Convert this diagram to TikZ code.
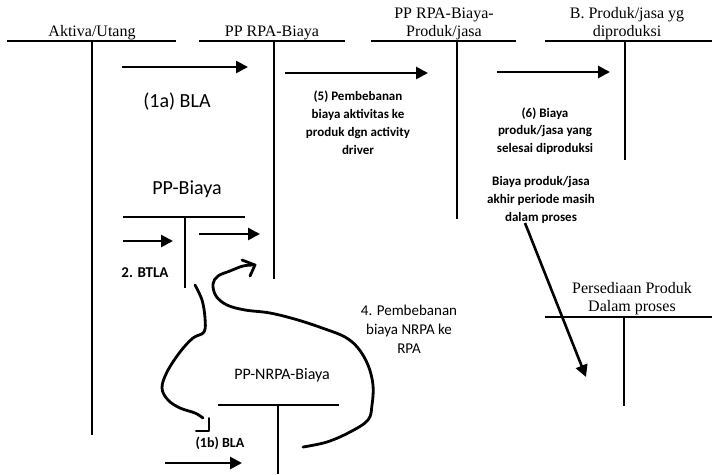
\documentclass[tikz,border=0pt]{standalone}
\usepackage{fontspec}
\setmainfont{Liberation Serif}
\newfontfamily\labelfont{Carlito}
\usetikzlibrary{arrows.meta}

\begin{document}
\begin{tikzpicture}[x=1pt,y=-1pt,
  ruling/.style={line width=1.3pt},
  flow/.style={line width=2.6pt,-{Triangle[length=12pt,width=12pt]}},
  sketch/.style={line width=2.8pt,line cap=round,line join=round},
  title/.style={font=\fontsize{16}{18}\selectfont,align=center,inner sep=0pt,anchor=south},
  note/.style={font=\labelfont\bfseries\fontsize{13}{17.5}\selectfont,align=center,inner sep=0pt},
  big/.style={font=\labelfont\fontsize{20}{24}\selectfont,inner sep=0pt},
]
\useasboundingbox[fill=white] (0,0) rectangle (712,474);

% ---- T-accounts ----
\draw[ruling] (7,41) -- (176,41);   \draw[ruling] (92,41) -- (92,435);
\draw[ruling] (199,41) -- (345,41); \draw[ruling] (274,41) -- (274,279);
\draw[ruling] (371,41) -- (516,41); \draw[ruling] (457,41) -- (457,219);
\draw[ruling] (545,41) -- (712,41); \draw[ruling] (625,41) -- (625,160);
\draw[ruling] (123,217) -- (245,217); \draw[ruling] (185,217) -- (185,288);
\draw[ruling] (218,405) -- (339,405); \draw[ruling] (278,405) -- (278,474);
\draw[ruling] (545,317) -- (712,317); \draw[ruling] (624,317) -- (624,406);

% ---- account titles ----
\node[title] (tAktiva) at (92,40.5) {Aktiva/Utang};
\node[title] (tRPA) at (272,40.5) {PP RPA-Biaya};
\node[title] (tRPAProd) at (444,40.5) {PP RPA-Biaya-\\Produk/jasa};
\node[title] (tProd) at (627,40.5) {B. Produk/jasa yg\\diproduksi};
\node[title] (tWIP) at (632,315.5) {Persediaan Produk\\Dalam proses};

% ---- labels ----
\node[big] (l1a) at (177,102) {(1a) BLA};
\node[big] (lBiaya) at (187,189) {PP-Biaya};
\node[font=\labelfont\bfseries\fontsize{15}{18}\selectfont,inner sep=0pt] (l2) at (145,273) {2. BTLA};
\node[note,font=\labelfont\bfseries\fontsize{13}{18}\selectfont] (l5) at (358,122.5)
  {(5) Pembebanan\\biaya aktivitas ke\\produk dgn activity\\driver};
\node[note] (l6) at (545,131) {(6) Biaya\\produk/jasa yang\\selesai diproduksi};
\node[note,font=\labelfont\bfseries\fontsize{13}{18}\selectfont] (lEnd) at (541,200)
  {Biaya produk/jasa\\akhir periode masih\\dalam proses};
\node[font=\labelfont\fontsize{15}{19}\selectfont,align=center,inner sep=0pt] (l4) at (409,329)
  {4. Pembebanan\\biaya NRPA ke\\RPA};
\node[font=\labelfont\fontsize{16}{19}\selectfont,inner sep=0pt] (lNRPA) at (282,375) {PP-NRPA-Biaya};
\node[font=\labelfont\bfseries\fontsize{14}{17}\selectfont,inner sep=0pt] (l1b) at (220,443) {(1b) BLA};

% ---- flow arrows ----
\coordinate (a1s) at (122,67);  \coordinate (a1e) at (248,67);
\coordinate (a5s) at (285,73);  \coordinate (a5e) at (428,73);
\coordinate (a6s) at (497,72);  \coordinate (a6e) at (610,72);
\coordinate (a2s) at (123,241); \coordinate (a2e) at (173,241);
\coordinate (a3s) at (199,234); \coordinate (a3e) at (260,234);
\coordinate (abs) at (165,463); \coordinate (abe) at (242,463);
\coordinate (adst) at (525,223); \coordinate (adend) at (586,377);
\draw[flow] (a1s) -- (a1e);
\draw[flow] (a5s) -- (a5e);
\draw[flow] (a6s) -- (a6e);
\draw[flow] (a2s) -- (a2e);
\draw[flow] (a3s) -- (a3e);
\draw[flow] (abs) -- (abe);
\draw[flow] (adst) -- (adend);

% ---- hand-drawn loops ----
\draw[sketch] plot[smooth,tension=0.6] coordinates {
  (195,285) (202,300) (205,318) (204,332) (193,338) (180,352)
  (167,372) (162,388) (168,400) (180,408) (195,413) (203,418)};
\draw[sketch,line width=2pt] (209,418) -- (209,431) -- (196,431);

\draw[sketch] plot[smooth,tension=0.6] coordinates {
  (303,447) (327,442) (350,432) (368,420) (372,405) (373,385)
  (368,365) (358,348) (345,337) (325,329) (298,320) (270,313)
  (245,310) (227,305) (216,296) (213,284) (218,276) (230,271)
  (243,266) (254,265)};
\draw[sketch] (242,260) -- (255,265) -- (250,276);
\end{tikzpicture}
\end{document}
